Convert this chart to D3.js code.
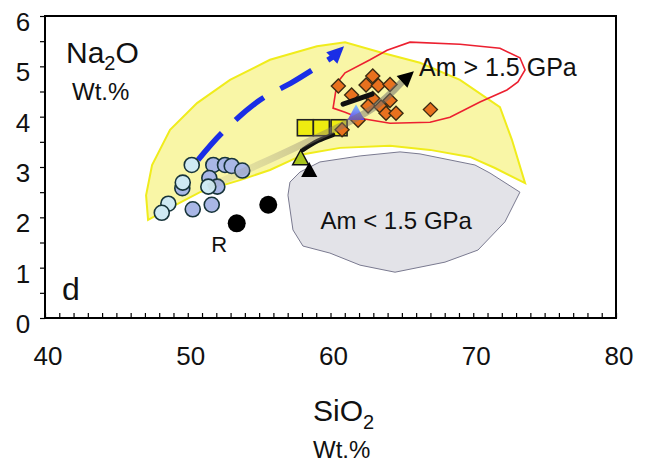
<!DOCTYPE html>
<html>
<head>
<meta charset="utf-8">
<script src="https://cdn.jsdelivr.net/npm/d3@7"></script>
<style>
  html, body { margin: 0; padding: 0; background: #fff; }
  svg text { font-family: "Liberation Sans", Arial, Helvetica, sans-serif; fill: #111; }
</style>
</head>
<body>
<svg id="chart" width="646" height="465"></svg>
<script>
// ---- data (SiO2 wt.%, Na2O wt.%) ----
const xTickLabels = [40, 50, 60, 70, 80];
const yTickLabels = [0, 1, 2, 3, 4, 5, 6];

// basalts, pale symbols
const basaltPale = [[50.28, 3.04], [49.65, 2.69], [51.44, 2.61], [48.64, 2.27], [48.18, 2.09]];
// basalts, blue symbols
const basaltBlue = [[51.79, 3.04], [52.61, 3.04], [53.08, 3.02], [53.82, 2.93], [49.62, 2.58],
                    [51.51, 2.78], [52.07, 2.61], [50.35, 2.16], [51.68, 2.25]];
// residual melts
const residue = [[53.43, 1.88], [55.64, 2.25]];
// experimental squares
const squares = [[58.24, 3.78], [59.36, 3.78], [60.6, 3.78]];
const triGreen = [[57.91, 3.17]];
const triBlack = [[58.51, 2.93]];
const triBlue = [[61.79, 4.07]];
// adakitic melts
const adakites = [[60.55, 4.61], [62.96, 4.81], [62.49, 4.63], [63.35, 4.62], [64.17, 4.64],
                  [61.48, 4.43], [62.96, 4.36], [64.17, 4.32], [62.63, 4.21], [63.54, 4.19],
                  [63.89, 4.07], [64.59, 4.07], [61.93, 3.93], [67.0, 4.14], [60.81, 3.74]];

// field outlines
const fieldYellow = [[47.22, 1.95], [47.08, 2.44], [47.5, 3.04], [48.76, 3.74], [50.65, 4.27],
                     [52.96, 4.73], [55.76, 5.13], [59.05, 5.4], [61.02, 5.48], [63.47, 5.28],
                     [66.27, 5.07], [69.07, 4.73], [71.87, 4.19], [72.71, 3.54], [73.63, 2.68],
                     [71.52, 2.98], [69.77, 3.2], [66.97, 3.34], [64.17, 3.42], [60.67, 3.38],
                     [58.21, 3.26], [55.76, 2.94], [53.66, 2.74], [50.86, 2.5], [48.76, 2.19]];
const fieldHighP = [[60.18, 4.17], [60.46, 4.67], [61.02, 4.87], [62.77, 5.13], [63.96, 5.32],
                    [65.57, 5.48], [69.07, 5.44], [71.87, 5.36], [73.27, 5.17], [73.63, 4.93],
                    [73.13, 4.69], [72.36, 4.53], [70.47, 4.29], [68.37, 3.99], [66.97, 3.89],
                    [64.17, 3.87], [62.07, 3.97], [61.02, 4.09]];
const fieldLowP = [[57.16, 2.7], [57.86, 2.9], [59.26, 3.1], [62.07, 3.22], [64.87, 3.3],
                   [66.27, 3.26], [70.12, 3.04], [71.17, 2.88], [73.27, 2.5], [72.22, 1.91],
                   [70.33, 1.35], [68.02, 1.11], [64.52, 0.91], [62.07, 1.05], [59.96, 1.29],
                   [58.07, 1.43], [57.37, 1.75], [57.02, 2.44]];

// trend arrows
const blueTrend = [[50.72, 3.14], [52.4, 3.68], [55.06, 4.33], [57.37, 4.69], [60.18, 5.19], [60.95, 5.4]];
const grayTrend = [[51.42, 2.6], [57.65, 3.4], [62.98, 4.17], [65.01, 4.69]];
const blackStroke = [[58.07, 3.34], [59.12, 3.52], [60.18, 3.64]];
const blackStroke2 = [[60.88, 4.25], [62.91, 4.45]];

// ---- scales ----
const svg = d3.select("#chart");
const x = d3.scaleLinear().domain([40, 80]).range([45, 616]);
const y = d3.scaleLinear().domain([0, 6]).range([318, 16]);
const pt = d => [x(d[0]), y(d[1])];

const defs = svg.append("defs");
const gFirst = grayTrend[0], gLast = grayTrend[grayTrend.length - 1];
const gGrad = defs.append("linearGradient").attr("id", "grayTrend")
  .attr("gradientUnits", "userSpaceOnUse")
  .attr("x1", x(gFirst[0])).attr("y1", y(gFirst[1]))
  .attr("x2", x(gLast[0])).attr("y2", y(gLast[1]));
gGrad.append("stop").attr("offset", "0").attr("stop-color", "#9a9a8a").attr("stop-opacity", 0.1);
gGrad.append("stop").attr("offset", "0.5").attr("stop-color", "#8a8070").attr("stop-opacity", 0.4);
gGrad.append("stop").attr("offset", "1").attr("stop-color", "#6a6a6a").attr("stop-opacity", 0.55);

const bGrad = defs.append("linearGradient").attr("id", "blueTri")
  .attr("x1", 0).attr("y1", 0).attr("x2", 0).attr("y2", 1);
bGrad.append("stop").attr("offset", "0").attr("stop-color", "#7fd0ff");
bGrad.append("stop").attr("offset", "1").attr("stop-color", "#6a40e8");

const line = d3.line().x(d => x(d[0])).y(d => y(d[1]));
const smooth = d3.line().x(d => x(d[0])).y(d => y(d[1])).curve(d3.curveCatmullRom);
const closed = d3.line().x(d => x(d[0])).y(d => y(d[1])).curve(d3.curveLinearClosed);

// ---- fields ----
svg.append("path").attr("d", closed(fieldYellow))
  .attr("fill", "#f9f6a6").attr("stroke", "#f0ec1c").attr("stroke-width", 2);
svg.append("path").attr("d", closed(fieldLowP))
  .attr("fill", "#e3e3e8").attr("stroke", "#7a7a90").attr("stroke-width", 1);
svg.append("path").attr("d", closed(fieldHighP))
  .attr("fill", "none").attr("stroke", "#ec2030").attr("stroke-width", 1.6);

// ---- blue dashed trend ----
svg.append("path").attr("d", smooth(blueTrend.slice(0, 5)))
  .attr("fill", "none").attr("stroke", "#1a2ee6").attr("stroke-width", 5.5)
  .attr("stroke-dasharray", "36,19");
{
  const tip = pt(blueTrend[5]), prev = pt(blueTrend[4]);
  const ang = Math.atan2(tip[1] - prev[1], tip[0] - prev[0]);
  const L = 17, W = 8;
  const bx = tip[0] - L * Math.cos(ang), by = tip[1] - L * Math.sin(ang);
  svg.append("path")
    .attr("d", `M${tip[0]},${tip[1]}L${bx + W * Math.sin(ang)},${by - W * Math.cos(ang)}L${bx - W * Math.sin(ang)},${by + W * Math.cos(ang)}Z`)
    .attr("fill", "#1a2ee6");
}

// ---- symbols ----
svg.append("g").selectAll("circle").data(basaltBlue).join("circle")
  .attr("cx", d => x(d[0])).attr("cy", d => y(d[1])).attr("r", 7.5)
  .attr("fill", "#a9b7e6").attr("stroke", "#17343a").attr("stroke-width", 1.6);
svg.append("g").selectAll("circle").data(basaltPale).join("circle")
  .attr("cx", d => x(d[0])).attr("cy", d => y(d[1])).attr("r", 7.5)
  .attr("fill", "#cfeaf4").attr("stroke", "#17343a").attr("stroke-width", 1.6);
svg.append("g").selectAll("circle").data(residue).join("circle")
  .attr("cx", d => x(d[0])).attr("cy", d => y(d[1])).attr("r", 9)
  .attr("fill", "#000");

svg.append("g").selectAll("rect").data(squares).join("rect")
  .attr("x", d => x(d[0]) - 8).attr("y", d => y(d[1]) - 8).attr("width", 16).attr("height", 16)
  .attr("fill", "#eeec10").attr("stroke", "#222").attr("stroke-width", 1.6);

svg.append("path").attr("d", smooth(blackStroke))
  .attr("fill", "none").attr("stroke", "#111").attr("stroke-width", 4.5).attr("stroke-linecap", "round");

const tri = (cx, cy, s) => `M${cx},${cy - s}L${cx + s * 0.95},${cy + s * 0.75}L${cx - s * 0.95},${cy + s * 0.75}Z`;
svg.append("g").selectAll("path").data(triGreen).join("path")
  .attr("d", d => tri(x(d[0]), y(d[1]), 8.5))
  .attr("fill", "#a8c41e").attr("stroke", "#111").attr("stroke-width", 1.4);
svg.append("g").selectAll("path").data(triBlack).join("path")
  .attr("d", d => tri(x(d[0]), y(d[1]), 8.5))
  .attr("fill", "#000");

const diamond = (cx, cy, s) => `M${cx},${cy - s}L${cx + s},${cy}L${cx},${cy + s}L${cx - s},${cy}Z`;
svg.append("g").selectAll("path").data(adakites).join("path")
  .attr("d", d => diamond(x(d[0]), y(d[1]), 7))
  .attr("fill", "#e8711e").attr("stroke", "#3b2a12").attr("stroke-width", 1.4);

svg.append("g").selectAll("path").data(triBlue).join("path")
  .attr("d", d => tri(x(d[0]), y(d[1]), 9))
  .attr("fill", "url(#blueTri)");

svg.append("path").attr("d", line(blackStroke2))
  .attr("fill", "none").attr("stroke", "#111").attr("stroke-width", 5).attr("stroke-linecap", "round");

// gray trend band with arrowhead
svg.append("path").attr("d", smooth(grayTrend))
  .attr("fill", "none").attr("stroke", "url(#grayTrend)").attr("stroke-width", 7);
{
  const a = pt(grayTrend[grayTrend.length - 2]), b = pt(gLast);
  const ang = Math.atan2(b[1] - a[1], b[0] - a[0]);
  const L = 16, W = 8;
  const tip = [b[0] + L * Math.cos(ang), b[1] + L * Math.sin(ang)];
  svg.append("path")
    .attr("d", `M${tip[0]},${tip[1]}L${b[0] + W * Math.sin(ang)},${b[1] - W * Math.cos(ang)}L${b[0] - W * Math.sin(ang)},${b[1] + W * Math.cos(ang)}Z`)
    .attr("fill", "#000");
}

// ---- frame and ticks ----
svg.append("rect").attr("x", 45).attr("y", 16).attr("width", 571).attr("height", 302)
  .attr("fill", "none").attr("stroke", "#000").attr("stroke-width", 2);

svg.append("g").attr("transform", "translate(0,318)")
  .call(d3.axisBottom(x).tickValues(d3.range(40, 81, 1)).tickSize(-5).tickFormat(""))
  .call(g => g.select(".domain").remove())
  .call(g => g.selectAll("line").attr("stroke", "#000").attr("stroke-width", 1.2));
svg.append("g").attr("transform", "translate(45,0)")
  .call(d3.axisLeft(y).tickValues(d3.range(0, 6.01, 0.5)).tickSize(5).tickFormat(""))
  .call(g => g.select(".domain").remove())
  .call(g => g.selectAll("line").attr("stroke", "#000").attr("stroke-width", 1.2));

svg.append("g").selectAll("text").data(xTickLabels).join("text")
  .attr("x", d => x(d) + 3).attr("y", 365).attr("text-anchor", "middle")
  .attr("font-size", 26).text(d => d);
svg.append("g").selectAll("text").data(yTickLabels).join("text")
  .attr("x", 23).attr("y", d => y(d) + 15).attr("text-anchor", "middle")
  .attr("font-size", 26).text(d => d);

// ---- axis titles and labels ----
const na = svg.append("text").attr("x", 66).attr("y", 63).attr("font-size", 30);
na.append("tspan").text("Na");
na.append("tspan").attr("font-size", 20).attr("dy", 7).text("2");
na.append("tspan").attr("dy", -7).text("O");
svg.append("text").attr("x", 72).attr("y", 100).attr("font-size", 24).text("Wt.%");

const si = svg.append("text").attr("x", 313).attr("y", 421).attr("font-size", 30);
si.append("tspan").text("SiO");
si.append("tspan").attr("font-size", 20).attr("dy", 8).text("2");
svg.append("text").attr("x", 313).attr("y", 458).attr("font-size", 24).text("Wt.%");

svg.append("text").attr("x", 62).attr("y", 300).attr("font-size", 32).text("d");
svg.append("text").attr("x", x(52.2)).attr("y", y(1.31)).attr("text-anchor", "middle")
  .attr("font-size", 22).text("R");
svg.append("text").attr("x", x(66.2)).attr("y", y(4.8)).attr("font-size", 25).text("Am > 1.5 GPa");
svg.append("text").attr("x", x(59.3)).attr("y", y(1.76)).attr("font-size", 24).text("Am < 1.5 GPa");
</script>
</body>
</html>
